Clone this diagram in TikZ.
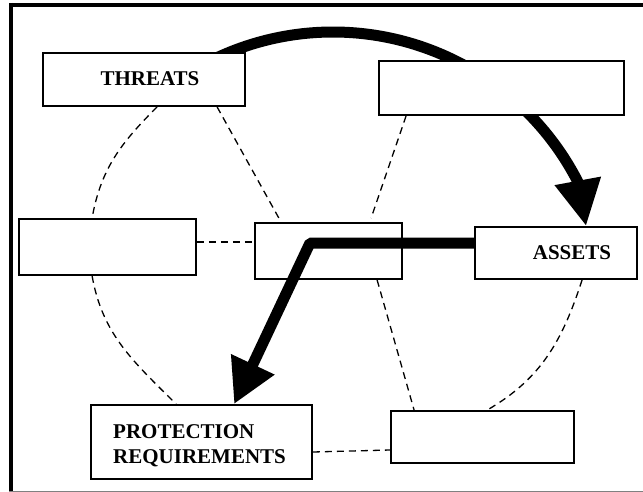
\documentclass[tikz,border=0pt]{standalone}
\usepackage{fontspec}
\setmainfont{Liberation Serif}
\usetikzlibrary{arrows.meta,backgrounds}
\begin{document}
\begin{tikzpicture}[x=1pt,y=1pt,
  box/.style={draw, fill=white, line width=1.8pt, inner sep=0pt},
  lbl/.style={font=\fontsize{21}{25}\selectfont\bfseries, inner sep=0pt},
  link/.style={line width=1.3pt, dash pattern=on 7pt off 5pt},
  flow/.style={line width=11pt},
  frameline/.style={line width=4pt}]
\useasboundingbox (0,0) rectangle (643,-492);

% outer frame (open on the right)
\draw[frameline] (9,-5) -- (643,-5);
\draw[frameline] (11,-3) -- (11,-491);
\draw[line width=1pt, gray] (9,-491) -- (643,-491);

% boxes
\node[box, minimum width=202pt, minimum height=53pt] (threats) at (144,-79.5) {};
\node[box, minimum width=245pt, minimum height=54pt] (tr)      at (501.5,-88) {};
\node[box, minimum width=177pt, minimum height=56pt] (lm)      at (107.5,-247) {};
\node[box, minimum width=147pt, minimum height=56pt] (cm)      at (328.5,-251) {};
\node[box, minimum width=162pt, minimum height=52pt] (assets)  at (556,-253) {};
\node[box, minimum width=221pt, minimum height=74pt] (prot)    at (201.5,-442) {};
\node[box, minimum width=183pt, minimum height=52pt] (br)      at (482.5,-437) {};

% labels
\node[lbl, anchor=base] (threatstxt) at (150,-86) {THREATS};
\node[lbl, anchor=base] (assetstxt) at (572,-259) {ASSETS};
\node[lbl, anchor=base west] (prottxta) at (113,-438) {PROTECTION};
\node[lbl, anchor=base west] (prottxtb) at (113,-463) {REQUIREMENTS};

% dashed relations
\draw[link] ([xshift=115pt]threats.south west) to[out=225,in=80] ([xshift=74pt]lm.north west);
\draw[link] ([xshift=74pt]lm.south west) to[out=-80,in=135] ([xshift=86pt]prot.north west);
\draw[link] ([xshift=175pt]threats.south west) -- ([xshift=27pt]cm.north west);
\draw[link] ([xshift=28pt]tr.south west) -- ([xshift=117pt,yshift=4pt]cm.north west);
\draw[link] ([xshift=123pt]cm.south west) -- ([xshift=24pt]br.north west);
\draw[link] ([xshift=108pt]assets.south west) to[out=-108,in=30] ([xshift=97pt]br.north west);
\draw[link] ([yshift=5pt]lm.east) -- ([yshift=9pt]cm.west);
\draw[link] ([yshift=-10pt]prot.east) -- ([yshift=-13pt]br.west);

% big arc from threats to assets, passing under the boxes
\coordinate (arcc) at (333,-307);
\begin{scope}[on background layer]
\draw[flow, -{Triangle[length=46pt,width=44pt]}]
  ([shift={(118:275pt)}]arcc) arc[start angle=118, end angle=27, radius=275pt]
  -- ([xshift=112pt]assets.north west);
\end{scope}

% flow from assets through the centre down to protection requirements
\coordinate (knee) at (310,-243);
\draw[flow, line join=bevel, -{Triangle[length=44pt,width=45pt]}]
  ([yshift=10pt]assets.west) -- (knee) -- ([xshift=144pt]prot.north west);
\end{tikzpicture}
\end{document}
